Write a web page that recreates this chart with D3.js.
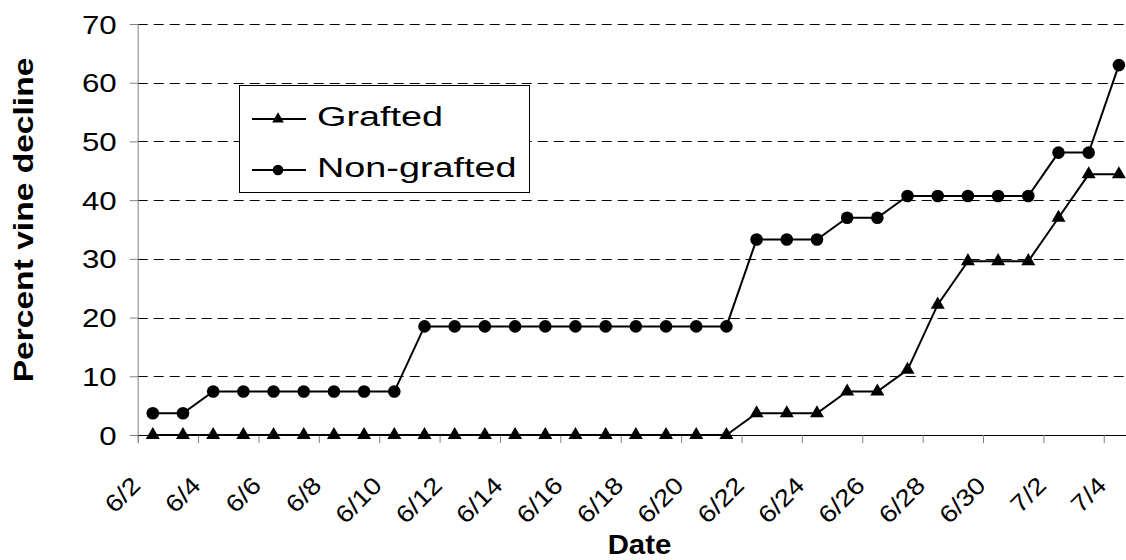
<!DOCTYPE html>
<html>
<head>
<meta charset="utf-8">
<script src="https://cdn.jsdelivr.net/npm/d3@7"></script>
<style>
  html, body { margin: 0; padding: 0; background: #fff; }
  svg { display: block; }
  text { font-family: "Liberation Sans", Arial, sans-serif; fill: #000; }
</style>
</head>
<body>
<svg id="chart" width="1126" height="560"></svg>
<script>
const dates = ["6/2","6/3","6/4","6/5","6/6","6/7","6/8","6/9","6/10","6/11","6/12","6/13","6/14","6/15","6/16","6/17","6/18","6/19","6/20","6/21","6/22","6/23","6/24","6/25","6/26","6/27","6/28","6/29","6/30","7/1","7/2","7/3","7/4"];
const xTickLabels = ["6/2","6/4","6/6","6/8","6/10","6/12","6/14","6/16","6/18","6/20","6/22","6/24","6/26","6/28","6/30","7/2","7/4"];
const grafted = [0,0,0,0,0,0,0,0,0,0,0,0,0,0,0,0,0,0,0,0,3.7,3.7,3.7,7.4,7.4,11.1,22.2,29.6,29.6,29.6,37.0,44.4,44.4];
const nonGrafted = [3.7,3.7,7.4,7.4,7.4,7.4,7.4,7.4,7.4,18.5,18.5,18.5,18.5,18.5,18.5,18.5,18.5,18.5,18.5,18.5,33.3,33.3,33.3,37.0,37.0,40.7,40.7,40.7,40.7,40.7,48.1,48.1,63.0];
const yTicks = [0,10,20,30,40,50,60,70];
const seriesNames = ["Grafted","Non-grafted"];

const svg = d3.select("#chart");
const left = 137.7, zeroY = 435, topY = 24;
const x = d3.scaleBand().domain(dates).range([left, left + 33 * 30.19]).padding(0);
const y = d3.scaleLinear().domain([0, 70]).range([zeroY, topY]);
const cx = d => x(d) + x.bandwidth() / 2;

// gridlines
svg.append("g").selectAll("line").data(yTicks.filter(v => v > 0)).join("line")
  .attr("x1", left).attr("x2", 1126)
  .attr("y1", d => Math.round(y(d)) + 0.5).attr("y2", d => Math.round(y(d)) + 0.5)
  .attr("stroke", "#000").attr("stroke-width", 1).attr("stroke-dasharray", "10,6");

// y axis
const yAxis = d3.axisLeft(y).tickValues(yTicks).tickSize(8).tickFormat("");
const gy = svg.append("g").attr("transform", `translate(${left},0)`).call(yAxis);
gy.select(".domain").attr("stroke", "#808080").attr("d", `M0.5,${topY}V${zeroY + 8}`);
gy.selectAll(".tick line").attr("stroke", "#808080");
gy.selectAll(".tick").each(function(d) {
  d3.select(this).append("text")
    .attr("transform", `translate(-21,0) scale(1.25,1)`)
    .attr("text-anchor", "end").attr("dy", "0.36em")
    .style("font-size", "25px").text(d);
});

// x axis
const xAxis = d3.axisBottom(x).tickValues(xTickLabels).tickSize(8).tickFormat("").offset(0);
const gx = svg.append("g").attr("transform", `translate(0,${zeroY})`).call(xAxis);
gx.select(".domain").attr("stroke", "#000").attr("d", `M${left},0.5H1126`);
gx.selectAll(".tick").attr("transform", d => `translate(${x(d)},0)`);
gx.selectAll(".tick line").attr("stroke", "#808080").attr("x1", 0.5).attr("x2", 0.5);
gx.selectAll(".tick").each(function(d) {
  d3.select(this).append("text")
    .attr("transform", `translate(${x.bandwidth() / 2 - 11},52) rotate(-45) scale(1.15,1)`)
    .attr("text-anchor", "end")
    .style("font-size", "24px").text(d);
});

// lines
const line = d3.line().x((v, i) => cx(dates[i])).y(v => y(v));
[grafted, nonGrafted].forEach(s => {
  svg.append("path").datum(s).attr("d", line)
    .attr("fill", "none").attr("stroke", "#000").attr("stroke-width", 2);
});

// markers
const tri = d3.symbol().type(d3.symbolTriangle).size(85);
svg.append("g").selectAll("path").data(grafted).join("path")
  .attr("d", tri).attr("transform", (v, i) => `translate(${cx(dates[i])},${y(v)})`)
  .attr("fill", "#000");
svg.append("g").selectAll("circle").data(nonGrafted).join("circle")
  .attr("cx", (v, i) => cx(dates[i])).attr("cy", v => y(v)).attr("r", 6.3)
  .attr("fill", "#000");

// axis titles
svg.append("text")
  .attr("transform", `translate(33,220) rotate(-90) scale(1.2,1)`)
  .attr("text-anchor", "middle")
  .style("font-size", "28px").style("font-weight", "bold")
  .text("Percent vine decline");
svg.append("text")
  .attr("transform", `translate(639.5,554) scale(1.05,1)`)
  .attr("text-anchor", "middle")
  .style("font-size", "28px").style("font-weight", "bold")
  .text("Date");

// legend
const lg = svg.append("g");
lg.append("rect").attr("x", 239.5).attr("y", 85.5).attr("width", 290).attr("height", 107)
  .attr("fill", "#fff").attr("stroke", "#000").attr("stroke-width", 1);
const rows = [119, 170];
seriesNames.forEach((name, i) => {
  const ry = rows[i];
  lg.append("line").attr("x1", 252).attr("x2", 306).attr("y1", ry).attr("y2", ry)
    .attr("stroke", "#000").attr("stroke-width", 2);
  if (i === 0) {
    lg.append("path").attr("d", d3.symbol().type(d3.symbolTriangle).size(60)())
      .attr("transform", `translate(278,${ry})`).attr("fill", "#000");
  } else {
    lg.append("circle").attr("cx", 278).attr("cy", ry).attr("r", 5.3).attr("fill", "#000");
  }
  lg.append("text")
    .attr("transform", `translate(317,${ry + 7}) scale(1.35,1)`)
    .style("font-size", "28px").text(name);
});
</script>
</body>
</html>
